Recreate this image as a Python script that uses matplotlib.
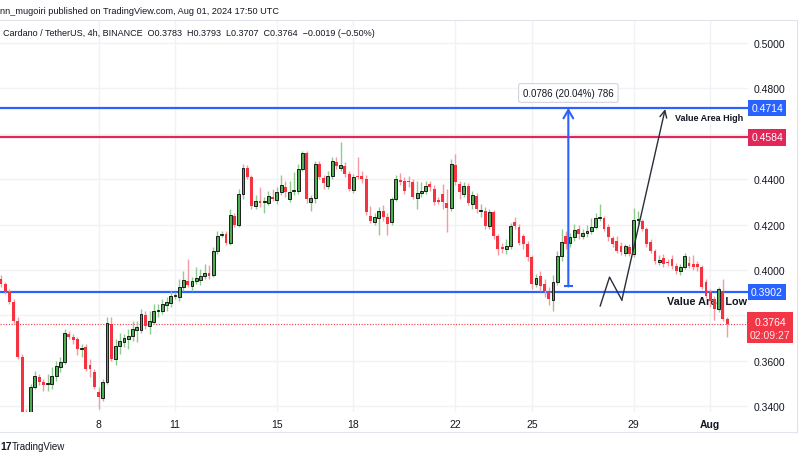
import matplotlib
matplotlib.use('Agg')
import matplotlib.pyplot as plt
import matplotlib.dates as mdates
import matplotlib.transforms as mtrans
from matplotlib.patches import Rectangle
from matplotlib.lines import Line2D
import pandas as pd
import numpy as np

plt.rcParams['font.family'] = ['Liberation Sans', 'DejaVu Sans']

# ---------------- data (ADA/USDT 4h, BINANCE) ----------------
start_time = '2024-07-04 04:00'
opens = [
    .3960, .3938, .3903, .3859, .3775, .3617, .3372, .3365, .3485, .3529,
    .3507, .3498, .3498, .3533, .3573, .3595, .3718, .3705, .3696, .3652,
    .3661, .3581, .3551, .3463, .3436, .3507, .3762, .3608, .3665, .3683,
    .3696, .3709, .3736, .3736, .3802, .3753, .3771, .3819, .3819, .3846,
    .3855, .3885, .3881, .3925, .3951, .3929, .3951, .3956, .3974, .3987,
    .3978, .4084, .4154, .4159, .4119, .4238, .4198, .4335, .4449, .4410,
    .4282, .4304, .4300, .4295, .4322, .4309, .4344, .4366, .4313, .4348,
    .4348, .4445, .4515, .4300, .4317, .4467, .4405, .4370, .4414, .4476,
    .4449, .4458, .4423, .4353, .4414, .4414, .4401, .4238, .4212, .4229,
    .4260, .4234, .4212, .4313, .4397, .4392, .4388, .4388, .4317, .4339,
    .4348, .4379, .4357, .4304, .4335, .4295, .4273, .4463, .4379, .4335,
    .4370, .4291, .4326, .4260, .4260, .4194, .4256, .4150, .4097, .4093,
    .4106, .4212, .4190, .4150, .4115, .4057, .3938, .3974, .3938, .3908,
    .3868, .3947, .4062, .4150, .4119, .4145, .4181, .4150, .4163, .4172,
    .4190, .4229, .4229, .4190, .4141, .4128, .4106, .4075, .4101, .4071,
    .4220, .4216, .4181, .4123, .4084, .4035, .4053, .4035, .4049, .4018,
    .3996, .4013, .4031, .4027, .4027, .4013, .3947, .3903, .3872, .3828,
    .3908, .3783]
highs = [
    .3978, .3947, .3916, .3872, .3793, .3630, .3390, .3500, .3555, .3542,
    .3520, .3542, .3573, .3599, .3617, .3740, .3731, .3718, .3705, .3674,
    .3674, .3608, .3564, .3485, .3520, .3793, .3793, .3696, .3723, .3718,
    .3740, .3775, .3775, .3828, .3819, .3819, .3850, .3850, .3872, .3881,
    .3908, .3903, .3960, .3996, .4049, .3969, .4013, .4004, .4027, .4022,
    .4101, .4172, .4172, .4172, .4269, .4251, .4357, .4467, .4463, .4418,
    .4331, .4366, .4322, .4348, .4357, .4366, .4418, .4392, .4392, .4432,
    .4467, .4524, .4524, .4331, .4480, .4480, .4418, .4436, .4498, .4498,
    .4564, .4476, .4436, .4423, .4498, .4436, .4418, .4282, .4251, .4278,
    .4287, .4251, .4322, .4418, .4427, .4410, .4414, .4401, .4392, .4388,
    .4392, .4392, .4375, .4322, .4379, .4357, .4489, .4511, .4392, .4388,
    .4383, .4348, .4339, .4291, .4278, .4269, .4265, .4159, .4119, .4137,
    .4207, .4234, .4203, .4159, .4128, .4066, .3983, .3996, .3960, .3925,
    .3978, .4084, .4181, .4172, .4163, .4203, .4198, .4181, .4198, .4230,
    .4250, .4291, .4240, .4203, .4150, .4150, .4123, .4115, .4115, .4273,
    .4260, .4225, .4190, .4137, .4093, .4066, .4071, .4049, .4066, .4031,
    .4027, .4075, .4062, .4066, .4040, .4022, .3960, .3916, .3885, .3925,
    .3960, .3793]
lows = [
    .3925, .3894, .3850, .3762, .3608, .3355, .3330, .3350, .3476, .3494,
    .3467, .3467, .3476, .3511, .3551, .3586, .3696, .3674, .3626, .3617,
    .3555, .3529, .3476, .3388, .3423, .3498, .3599, .3581, .3630, .3661,
    .3652, .3687, .3683, .3723, .3740, .3718, .3762, .3793, .3806, .3819,
    .3837, .3872, .3863, .3908, .3925, .3908, .3938, .3934, .3960, .3960,
    .3969, .4071, .4145, .4110, .4110, .4190, .4190, .4313, .4401, .4269,
    .4269, .4278, .4251, .4287, .4304, .4291, .4331, .4322, .4300, .4331,
    .4335, .4436, .4295, .4260, .4295, .4401, .4357, .4357, .4401, .4445,
    .4436, .4410, .4348, .4339, .4401, .4383, .4242, .4207, .4198, .4154,
    .4216, .4154, .4198, .4304, .4375, .4335, .4366, .4313, .4269, .4322,
    .4335, .4348, .4287, .4291, .4269, .4168, .4260, .4375, .4313, .4322,
    .4287, .4269, .4251, .4234, .4181, .4181, .4137, .4066, .4075, .4071,
    .4093, .4181, .4110, .4093, .4040, .3916, .3925, .3908, .3881, .3846,
    .3819, .3934, .4040, .4093, .4101, .4128, .4137, .4137, .4145, .4160,
    .4180, .4216, .4170, .4130, .4100, .4075, .4066, .4062, .4062, .4057,
    .4203, .4170, .4101, .4075, .4027, .4022, .4013, .4018, .4004, .3983,
    .3978, .4004, .4009, .4000, .3996, .3916, .3877, .3837, .3781, .3815,
    .3775, .3707]
closes = [
    .3938, .3903, .3859, .3775, .3617, .3372, .3365, .3485, .3533, .3507,
    .3494, .3502, .3533, .3577, .3595, .3723, .3705, .3692, .3652, .3657,
    .3564, .3564, .3485, .3441, .3507, .3767, .3608, .3665, .3687, .3700,
    .3709, .3740, .3749, .3806, .3753, .3775, .3819, .3822, .3850, .3859,
    .3885, .3887, .3925, .3956, .3934, .3951, .3965, .3974, .3987, .3974,
    .4084, .4150, .4159, .4119, .4242, .4198, .4335, .4449, .4410, .4282,
    .4304, .4295, .4302, .4326, .4313, .4344, .4375, .4344, .4344, .4350,
    .4445, .4515, .4313, .4317, .4467, .4410, .4383, .4414, .4480, .4458,
    .4463, .4423, .4357, .4410, .4412, .4401, .4256, .4216, .4234, .4260,
    .4234, .4203, .4313, .4401, .4388, .4348, .4386, .4322, .4339, .4348,
    .4370, .4366, .4300, .4302, .4300, .4273, .4467, .4388, .4344, .4370,
    .4295, .4331, .4269, .4262, .4194, .4256, .4150, .4093, .4095, .4106,
    .4194, .4194, .4119, .4115, .4057, .3938, .3965, .3929, .3908, .3872,
    .3947, .4062, .4123, .4115, .4145, .4176, .4159, .4163, .4172, .4190,
    .4229, .4231, .4181, .4145, .4115, .4084, .4079, .4106, .4071, .4220,
    .4222, .4181, .4115, .4084, .4040, .4044, .4027, .4033, .4018, .3996,
    .4013, .4062, .4018, .4013, .4013, .3925, .3885, .3863, .3828, .3916,
    .3783, .3764]

price_ticks = [0.34, 0.36, 0.38, 0.40, 0.42, 0.44, 0.46, 0.48, 0.50]
date_ticks = ['2024-07-08', '2024-07-11', '2024-07-15', '2024-07-18',
              '2024-07-22', '2024-07-25', '2024-07-29', '2024-08-01']
date_labels = ['8', '11', '15', '18', '22', '25', '29', 'Aug']

vah = 0.4714          # value area high
resist = 0.4584       # red level
val = 0.3902          # value area low
measure_low = 0.3928  # measurement tool start
measure_text = '0.0786 (20.04%) 786'
countdown = '02:09:27'
# hand-drawn path: (candle index, price)
path_pts = [(141.1, 0.3842), (143.3, 0.3969), (146.2, 0.3868), (156.4, 0.4709)]
measure_idx = 133.6

# ---------------- figure ----------------
W, H = 800, 460
fig = plt.figure(figsize=(W / 100, H / 100), dpi=100)
fig.patch.set_facecolor('white')
ax = fig.add_axes([0, 47 / H, 748 / W, 391 / H])

times = pd.date_range(start_time, periods=len(closes), freq='4h')
x = mdates.date2num(times)
step = 4 / 24
ax.set_xlim(x[0] - 0.2 * step, x[0] + 175.9 * step)
ax.set_ylim(0.3375, 0.5097)

def xi(i):
    return x[0] + i * step

# grid / ticks
ax.set_yticks(price_ticks)
ax.set_yticklabels(['%.4f' % v for v in price_ticks])
ax.yaxis.tick_right()
tick_x = mdates.date2num(pd.to_datetime(date_ticks))
ax.set_xticks(tick_x)
ax.set_xticklabels(date_labels)
for lab in ax.get_xticklabels():
    if lab.get_text() == 'Aug':
        lab.set_fontweight('bold')
ax.tick_params(axis='both', length=0, labelsize=7.5, colors='#131722')
ax.tick_params(axis='x', pad=5)
ax.tick_params(axis='y', pad=4)
ax.grid(True, color='#F0F2F6', lw=1)
ax.set_axisbelow(True)
for s in ax.spines.values():
    s.set_visible(False)

# candles
o = np.array(opens); c = np.array(closes); h = np.array(highs); l = np.array(lows)
up = c >= o
green_body, green_wick = '#4CAF50', '#8FCB91'
red_body, red_wick = '#F5323F', '#F59AA2'
ax.vlines(x[up], l[up], h[up], color=green_wick, lw=1, zorder=3)
ax.vlines(x[~up], l[~up], h[~up], color=red_wick, lw=1, zorder=3)
bw = step * 0.68
minh = 0.00045
body_h = np.maximum(np.abs(c - o), minh)
body_b = np.minimum(c, o)
ax.bar(x[up], body_h[up], bottom=body_b[up], width=bw, color=green_body,
       edgecolor='#1c1c1c', linewidth=0.7, zorder=4)
ax.bar(x[~up], body_h[~up], bottom=body_b[~up], width=bw, color=red_body,
       edgecolor='none', linewidth=0, zorder=4)

# horizontal levels
ax.axhline(vah, color='#2962FF', lw=1.6, zorder=2)
ax.axhline(resist, color='#E3265A', lw=1.6, zorder=2)
ax.axhline(val, color='#2962FF', lw=1.6, zorder=2)
ax.axhline(closes[-1], color='#F23645', lw=0.8, ls=(0, (1, 1.5)), zorder=2)

ax.text(xi(158.8), vah - 0.0040, 'Value Area High', fontsize=6.5, color='#131722',
        ha='left', va='center', fontweight='semibold', zorder=2)
ax.text(xi(156.9), val - 0.0039, 'Value Area Low', fontsize=7.8, color='#131722',
        ha='left', va='center', fontweight='bold', zorder=2)

# measurement tool
xm = xi(measure_idx)
ax.annotate('', xy=(xm, vah), xytext=(xm, measure_low),
            arrowprops=dict(arrowstyle='->,head_length=0.6,head_width=0.35',
                            color='#2962FF', lw=1.5, shrinkA=0, shrinkB=0), zorder=6)
ax.plot([xm - 0.9 * step, xm + 0.9 * step], [measure_low, measure_low],
        color='#2962FF', lw=1.5, zorder=6)
ax.text(xm, vah + 0.0066, measure_text, fontsize=7, color='#131722',
        ha='center', va='center', zorder=7,
        bbox=dict(boxstyle='round,pad=0.45,rounding_size=0.2', fc='white',
                  ec='#D1D4DC', lw=0.8))

# hand drawn path with arrow
px = [xi(p[0]) for p in path_pts]
py = [p[1] for p in path_pts]
ax.plot(px[:3], py[:3], color='#2A2E39', lw=1, zorder=6)
ax.annotate('', xy=(px[3], py[3]), xytext=(px[2], py[2]),
            arrowprops=dict(arrowstyle='->,head_length=0.5,head_width=0.25',
                            color='#2A2E39', lw=1, shrinkA=0, shrinkB=0), zorder=6)

# price-axis labels
bt = mtrans.blended_transform_factory(fig.transFigure, ax.transData)
def price_box(val_, color, text=None):
    fig.text(767 / W, val_, text or '%.4f' % val_, transform=bt, fontsize=7.5,
             color='white', ha='center', va='center', zorder=6,
             bbox=dict(boxstyle='square,pad=0.3', fc=color, ec='none'))

price_box(vah, '#2962FF')
price_box(resist, '#E3265A')
price_box(val, '#2962FF')
last = closes[-1]
pix = 0.0004405
fig.patches.append(Rectangle((747 / W, last - 19 * pix), 46 / W, 31 * pix,
                             transform=bt, fc='#F23645', ec='none', zorder=5))
fig.text(770 / W, last + 2 * pix, '%.4f' % last, transform=bt, fontsize=7.5,
         color='white', ha='center', va='center', zorder=6)
fig.text(770 / W, last - 11 * pix, countdown, transform=bt, fontsize=7.5,
         color='#FDE3E5', ha='center', va='center', zorder=6)

# frame lines
for (x0, y0, x1, y1) in [(0, 21, 797, 21), (0, 433, 797, 433), (797, 21, 797, 433)]:
    fig.lines.append(Line2D([x0 / W, x1 / W], [1 - y0 / H, 1 - y1 / H],
                            transform=fig.transFigure, color='#E0E3EB', lw=0.8))

# header texts
fig.text(0, 1 - 12 / H, 'nn_mugoiri published on TradingView.com, Aug 01, 2024 17:50 UTC',
         fontsize=6.6, color='#131722', ha='left', va='center')
fig.text(3 / W, 1 - 33 / H,
         'Cardano / TetherUS, 4h, BINANCE  O0.3783  H0.3793  L0.3707  C0.3764  \u22120.0019 (\u22120.50%)',
         fontsize=6.5, color='#131722', ha='left', va='center')
fig.text(0, 1 - 447 / H, '17', fontsize=7.5, fontweight='heavy', color='#131722',
         ha='left', va='center')
fig.text(12 / W, 1 - 447 / H, 'TradingView', fontsize=7, color='#131722',
         ha='left', va='center')

fig.savefig('out.png', dpi=100)
